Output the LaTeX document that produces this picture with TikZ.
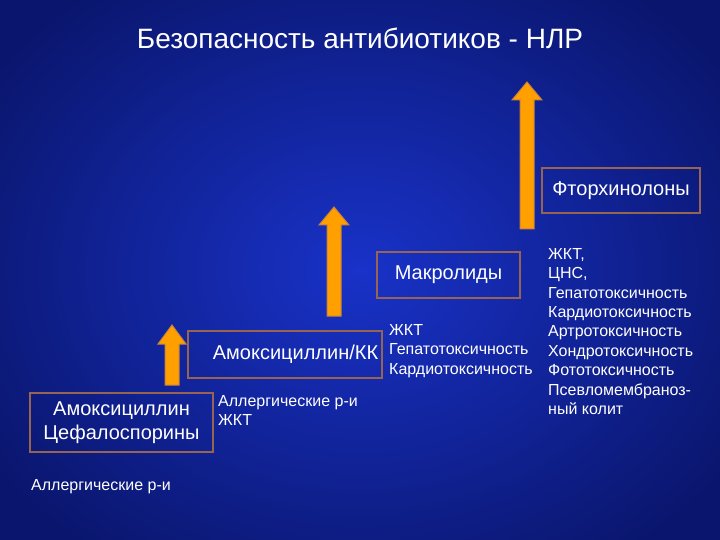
\documentclass[tikz,border=0pt]{standalone}
\usepackage{fontspec}
\setmainfont{Liberation Sans}
\definecolor{bgin}{RGB}{25,50,200}
\definecolor{bgout}{RGB}{10,22,110}
\definecolor{boxline}{RGB}{150,100,80}
\definecolor{arrfill}{RGB}{255,160,0}
\definecolor{arrline}{RGB}{200,130,60}
\begin{document}
\begin{tikzpicture}[x=1pt,y=-1pt,
  box/.style={draw=boxline,line width=1.6pt,text=white,font=\fontsize{20}{24}\selectfont,inner sep=0pt},
  txt/.style={text=white,font=\fontsize{16}{19.4}\selectfont,align=left,inner sep=0pt},
  uparrow/.style={fill=arrfill,draw=arrline,line width=1pt}]
\useasboundingbox (0,0) rectangle (720,540);
\shade[inner color=bgin,outer color=bgout] (-80,-80) rectangle (800,620);
\node[text=white,font=\fontsize{28}{32}\selectfont] (title) at (360,38) {Безопасность антибиотиков - НЛР};
\node[box,minimum width=183,minimum height=59,align=center] (b1) at (121.5,422.5) {Амоксициллин\\Цефалоспорины};
\node[box,minimum width=194,minimum height=47,align=right,anchor=east,text width=186] (b2) at (383,354.5) {Амоксициллин/КК};
\node[box,minimum width=143,minimum height=46] (b3) at (448.5,275) {Макролиды};
\node[box,minimum width=158,minimum height=45] (b4) at (621,190.5) {Фторхинолоны};
\node[txt,anchor=west] (t1) at (31,487) {Аллергические р-и};
\node[txt,anchor=north west] (t2) at (218,395) {Аллергические р-и\\ЖКТ};
\node[txt,anchor=north west] (t3) at (389,324) {ЖКТ\\Гепатотоксичность\\Кардиотоксичность};
\node[txt,anchor=north west] (t4) at (548,248) {ЖКТ,\\ЦНС,\\Гепатотоксичность\\Кардиотоксичность\\Артротоксичность\\Хондротоксичность\\Фототоксичность\\Псевломембраноз-\\ный колит};
\draw[uparrow] (165,385)--(165,344)--(158,344)--(172,325)--(186,344)--(179,344)--(179,385)--cycle;
\draw[uparrow] (327,316)--(327,225)--(319,225)--(334,207)--(349,225)--(341,225)--(341,316)--cycle;
\draw[uparrow] (520,229)--(520,100)--(512,100)--(527,82)--(542,100)--(534,100)--(534,229)--cycle;
\end{tikzpicture}
\end{document}
